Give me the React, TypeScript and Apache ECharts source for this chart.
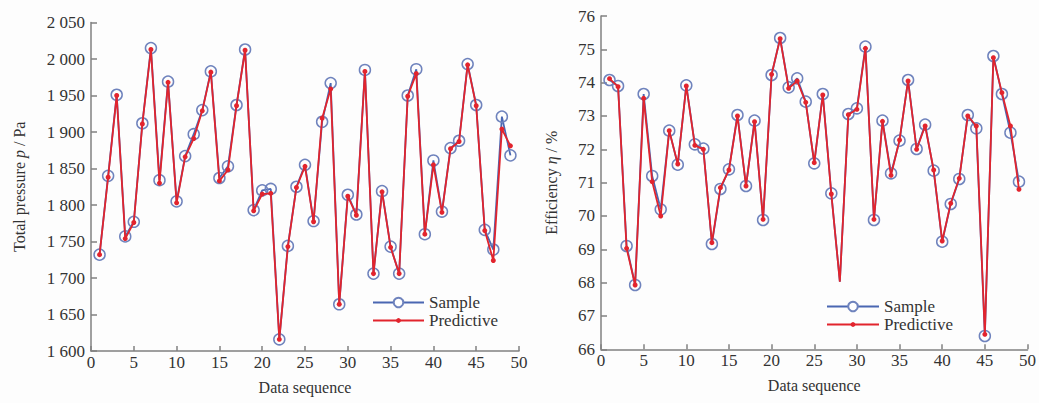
import React, { useEffect, useRef } from "react";
import * as echarts from "echarts";

const seq = Array.from({ length: 49 }, (_, i) => i + 1);

const pressureSample = [
  1732, 1840, 1951, 1757, 1777, 1912, 2015, 1834, 1969, 1805,
  1867, 1897, 1930, 1983, 1837, 1853, 1937, 2013, 1793, 1820,
  1822, 1616, 1744, 1825, 1855, 1778, 1914, 1967, 1664, 1814,
  1787, 1985, 1706, 1819, 1743, 1706, 1950, 1986, 1760, 1861,
  1791, 1878, 1888, 1993, 1937, 1766, 1739, 1921, 1868,
];
const pressurePred = [
  1732, 1838, 1950, 1754, 1776, 1911, 2013, 1830, 1968, 1803,
  1866, 1891, 1929, 1982, 1833, 1848, 1936, 2012, 1792, 1815,
  1816, 1616, 1743, 1824, 1853, 1777, 1919, 1959, 1664, 1812,
  1786, 1983, 1706, 1818, 1742, 1706, 1949, 1980, 1760, 1855,
  1790, 1877, 1887, 1992, 1936, 1765, 1724, 1904, 1881,
];
const effSample = [
  74.08, 73.9, 69.1, 67.93, 73.66, 71.2, 70.2, 72.56, 71.54, 73.92,
  72.15, 72.02, 69.16, 70.81, 71.4, 73.03, 70.9, 72.86, 69.88, 74.23,
  75.34, 73.86, 74.13, 73.43, 71.58, 73.66, 70.68, 68.03, 73.06, 73.23,
  75.08, 69.88, 72.86, 71.28, 72.26, 74.08, 72.01, 72.74, 71.36, 69.23,
  70.36, 71.11, 73.03, 72.63, 66.4, 74.8, 73.66, 72.5, 71.03,
];
const effPred = [
  74.12, 73.88, 69.03, 67.93, 73.53, 71.03, 70.0, 72.56, 71.56, 73.9,
  72.12, 72.0, 69.2, 70.85, 71.38, 73.0, 70.9, 72.83, 69.9, 74.25,
  75.32, 73.83, 74.05, 73.41, 71.6, 73.63, 70.66, 68.03, 73.04, 73.2,
  75.03, 69.9, 72.84, 71.22, 72.28, 74.05, 72.0, 72.7, 71.38, 69.25,
  70.38, 71.13, 73.0, 72.7, 66.45, 74.75, 73.7, 72.7, 70.8,
];

const seriesNames = ["Sample", "Predictive"];
const xTicks = { min: 0, max: 50, interval: 5 };
const pressureTicks = { min: 1600, max: 2050, interval: 50 };
const effTicks = { min: 66, max: 76, interval: 1 };

const FONT = "'Liberation Serif', 'Times New Roman', serif";
const BLUE = "#4a67b2";
const RED = "#e2242d";
const AXIS = "#808080";
const TEXT = "#333333";

function fmtThousands(v: number) {
  const s = String(v);
  return s.length > 3 ? s.slice(0, s.length - 3) + " " + s.slice(-3) : s;
}

export default function App() {
  const ref = useRef<HTMLDivElement>(null);
  useEffect(() => {
    if (!ref.current) return;
    const chart = echarts.init(ref.current, undefined, { renderer: "svg" });

    const xAxisBase = (gridIndex: number) => ({
      type: "value" as const,
      gridIndex,
      ...xTicks,
      name: "Data sequence",
      nameLocation: "middle" as const,
      nameGap: 28,
      nameTextStyle: { fontFamily: FONT, fontSize: 16, color: TEXT },
      axisLine: { show: true, lineStyle: { color: AXIS, width: 1.5 } },
      axisTick: { show: true, inside: true, length: 5, lineStyle: { color: AXIS, width: 1.5 } },
      axisLabel: { fontFamily: FONT, fontSize: 17, color: TEXT, margin: 3 },
      splitLine: { show: false },
    });

    const yAxisBase = (gridIndex: number, ticks: any, nameGap: number, rich: any, name: string, fmt?: any) => ({
      type: "value" as const,
      gridIndex,
      ...ticks,
      name,
      nameLocation: "middle" as const,
      nameGap,
      nameRotate: 90,
      nameTextStyle: { fontFamily: FONT, fontSize: 16, color: TEXT, rich },
      axisLine: { show: true, lineStyle: { color: AXIS, width: 1.5 } },
      axisTick: { show: true, inside: true, length: 6, lineStyle: { color: AXIS, width: 1.5 } },
      axisLabel: { fontFamily: FONT, fontSize: 17, color: TEXT, margin: 6, formatter: fmt },
      splitLine: { show: false },
    });

    const richName = {
      it: { fontFamily: FONT, fontSize: 16, fontStyle: "italic", color: TEXT },
    };

    const sampleSeries = (idx: number, vals: number[], hideIdx: number[] = []) => ({
      name: seriesNames[0],
      type: "line" as const,
      xAxisIndex: idx,
      yAxisIndex: idx,
      data: vals.map((v, i) =>
        hideIdx.includes(i) ? { value: [seq[i], v], symbol: "none" } : [seq[i], v]
      ),
      symbol: "circle",
      symbolSize: 11,
      lineStyle: { color: BLUE, width: 1.8 },
      itemStyle: { color: "rgba(255,255,255,0)", borderColor: "#6f83bd", borderWidth: 1.5 },
      z: 2,
    });
    const predSeries = (idx: number, vals: number[], hideIdx: number[] = []) => ({
      name: seriesNames[1],
      type: "line" as const,
      xAxisIndex: idx,
      yAxisIndex: idx,
      data: vals.map((v, i) =>
        hideIdx.includes(i) ? { value: [seq[i], v], symbol: "none" } : [seq[i], v]
      ),
      symbol: "circle",
      symbolSize: 5,
      lineStyle: { color: RED, width: 1.8 },
      itemStyle: { color: RED, borderWidth: 0 },
      z: 3,
    });

    const legendItem = (name: string, left: number, centerY: number, h: number, w: number, fill?: string) => ({
      left,
      top: centerY - 10,
      orient: "vertical" as const,
      itemWidth: w,
      itemHeight: h,
      data: [name],
      textStyle: { fontFamily: FONT, fontSize: 17, color: TEXT, lineHeight: 20, height: 20 },
      selectedMode: false,
      padding: 0,
      ...(fill ? { itemStyle: { color: fill } } : {}),
    });

    chart.setOption({
      animation: false,
      backgroundColor: "#fdfdfd",
      grid: [
        { left: 91, right: 520, top: 22.5, bottom: 52 },
        { left: 601, right: 10, top: 16, bottom: 53.7 },
      ],
      legend: [
        legendItem(seriesNames[0], 372, 302.5, 12, 51, "#ffffff"),
        legendItem(seriesNames[1], 372, 320.5, 6, 51),
        legendItem(seriesNames[0], 826, 306.5, 12, 52, "#ffffff"),
        legendItem(seriesNames[1], 826, 324.5, 6, 52),
      ],
      xAxis: [xAxisBase(0), xAxisBase(1)],
      yAxis: [
        yAxisBase(0, pressureTicks, 64, richName, "Total pressure {it|p} / Pa", fmtThousands),
        yAxisBase(1, effTicks, 42, richName, "Efficiency {it|η} / %"),
      ],
      series: [
        sampleSeries(0, pressureSample),
        predSeries(0, pressurePred),
        sampleSeries(1, effSample, [27]),
        predSeries(1, effPred, [27]),
      ],
    });
    return () => chart.dispose();
  }, []);
  return (
    <div
      ref={ref}
      style={{ position: "fixed", left: 0, top: 0, width: 1039, height: 403 }}
    />
  );
}
